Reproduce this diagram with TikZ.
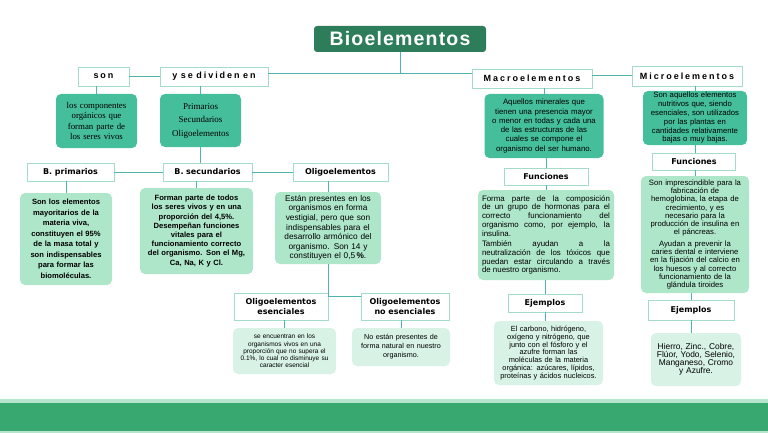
\documentclass[tikz,border=0pt]{standalone}
\usepackage{fontspec}
\setmainfont{Liberation Sans}
\newfontfamily\spacedfont[LetterSpace=22]{Liberation Sans}
\newfontfamily\titlefont[LetterSpace=6]{Liberation Sans}
\newfontfamily\heavyfont{DejaVu Sans}
\newfontfamily\serifcomp{Liberation Serif}
\newcommand\myfs[2]{\fontsize{#1}{#2}\selectfont}
\newcommand\wsp{\hspace{3.5pt}}
\definecolor{titlec}{HTML}{2D7D5A}
\definecolor{tealc}{HTML}{45BE9B}
\definecolor{litec}{HTML}{AEE6CA}
\definecolor{palec}{HTML}{D8F2E5}
\definecolor{lblc}{HTML}{A3DCCB}
\definecolor{connc}{HTML}{4FB3AE}
\definecolor{bandc}{HTML}{38A870}
\definecolor{bandl}{HTML}{B7E4CD}
\tikzset{
  sz/.style n args={3}{minimum width=#1, minimum height=#2, text width=#3},
  lbl/.style={draw=lblc, line width=0.8pt, fill=white, inner sep=1pt, align=center,
    font=\heavyfont\bfseries\myfs{8}{10}},
  spc/.style={lbl, font=\spacedfont\bfseries\myfs{9}{10}},
  cbox/.style={rounded corners=5pt, inner sep=1pt, align=center, text=black},
  tealbox/.style={cbox, fill=tealc},
  litebox/.style={cbox, fill=litec},
  palebox/.style={cbox, fill=palec},
  conn/.style={draw=connc, line width=1pt},
}
\begin{document}
\begin{tikzpicture}[x=1pt,y=-1pt]
\useasboundingbox (0,0) rectangle (768,433);
% bottom band
\fill[bandl] (0,399) rectangle (768,403);
\fill[bandc] (0,403) rectangle (768,431);
\fill[bandl] (0,431) rectangle (768,433);

% title
\node[fill=titlec, rounded corners=3pt, minimum width=172pt, minimum height=26pt, text=white,
  font=\titlefont\bfseries\myfs{19.5}{21}] (title) at (400,39) {Bioelementos};

% top labels
\node[spc, sz={51pt}{19pt}{49pt}] (son) at (103.5,76.5) {son};
\node[spc, sz={108pt}{19pt}{106pt}] (div) at (214,76.5) {y\wsp se\wsp dividen\wsp en};
\node[spc, sz={120pt}{19pt}{118pt}] (macro) at (532,78.5) {Macroelementos};
\node[spc, sz={110pt}{20pt}{108pt}] (micro) at (687,76) {Microelementos};

% left column
\node[tealbox, sz={81pt}{54pt}{79pt}, font=\serifcomp\myfs{8.8}{10.2}] (comp) at (96.5,121)
  {los componentes\\orgánicos que\\forman parte de\\los seres vivos};
\node[tealbox, sz={81pt}{53pt}{79pt}, font=\serifcomp\myfs{9}{13.5}] (prim) at (200.5,120.5)
  {Primarios\\Secundarios\\Oligoelementos};

\node[lbl, sz={87pt}{18pt}{85pt}] (bprim) at (70.5,172) {B. primarios};
\node[lbl, sz={89pt}{18pt}{87pt}] (bsec) at (207.5,172) {B. secundarios};
\node[lbl, sz={95pt}{18pt}{93pt}] (oligo) at (340.5,172) {Oligoelementos};

\node[litebox, sz={92pt}{92pt}{88pt}, font=\bfseries\myfs{7.6}{10.5}] (bprimC) at (66,239)
  {Son los elementos\\mayoritarios de la\\materia viva,\\constituyen el 95\%\\de la masa total y\\son indispensables\\para formar las\\biomoléculas.};
\node[litebox, sz={113pt}{86pt}{110pt}, font=\bfseries\myfs{7.6}{9.2}] (bsecC) at (196.5,231)
  {Forman parte de todos\\los seres vivos y en una\\proporción del 4,5\%.\\Desempeñan funciones\\vitales para el\\funcionamiento correcto\\del organismo. Son el Mg,\\Ca, Na, K y Cl.};
\node[litebox, sz={106pt}{72pt}{104pt}, font=\myfs{8.3}{9.6}] (oligoC) at (328,228)
  {Están presentes en los\\organismos en forma\\vestigial, pero que son\\indispensables para el\\desarrollo armónico del\\organismo. Son 14 y\\constituyen el 0,5\,\textbf{\%}.};

\node[lbl, sz={94pt}{27pt}{92pt}] (oes) at (281,306.5) {Oligoelementos\\esenciales};
\node[lbl, sz={88pt}{27pt}{86pt}] (ones) at (405,306.5) {Oligoelementos\\no esenciales};
\node[palebox, sz={103pt}{46pt}{101pt}, font=\myfs{6.5}{7.2}] (oesC) at (284.5,351)
  {se encuentran en los\\organismos vivos en una\\proporción que no supera el\\0.1\%, lo cual no disminuye su\\caracter esencial};
\node[palebox, sz={98pt}{38pt}{96pt}, font=\myfs{7.2}{9}] (onesC) at (401,347)
  {No están presentes de\\forma natural en nuestro\\organismo.};

% macro column
\node[tealbox, sz={119pt}{64pt}{117pt}, font=\myfs{7.8}{9.3}] (macroC) at (544,126)
  {Aquellos minerales que\\tienen una presencia mayor\\o menor en todas y cada una\\de las estructuras de las\\cuales se compone el\\organismo del ser humano.};
\node[lbl, sz={84pt}{17pt}{82pt}] (funM) at (546,176.5) {Funciones};
\node[litebox, sz={136pt}{90pt}{128pt}, align=justify, font=\myfs{7.9}{8.7}] (funMC) at (546,235)
  {\hyphenpenalty=10000 Forma parte de la composición\linebreak de un grupo de hormonas para el\linebreak correcto funcionamiento del\linebreak organismo como, por ejemplo, la\linebreak insulina.\par\vspace{2pt}
  También ayudan a la\linebreak neutralización de los tóxicos que\linebreak puedan estar circulando a través\linebreak de nuestro organismo.};
\node[lbl, sz={74pt}{18pt}{72pt}] (ejM) at (545,303) {Ejemplos};
\node[palebox, sz={109pt}{64pt}{107pt}, font=\myfs{7.4}{7.9}] (ejMC) at (548.5,353)
  {El carbono, hidrógeno,\\oxígeno y nitrógeno, que\\junto con el fósforo y el\\azufre forman las\\moléculas de la materia\\orgánica: azúcares, lípidos,\\proteínas y ácidos nucleicos.};

% micro column
\node[tealbox, sz={104pt}{54pt}{102pt}, font=\myfs{7.7}{8.8}] (microC) at (695,118)
  {Son aquellos elementos\\nutritivos que, siendo\\esenciales, son utilizados\\por las plantas en\\cantidades relativamente\\bajas o muy bajas.};
\node[lbl, sz={83pt}{17pt}{81pt}] (funm) at (694,161.5) {Funciones};
\node[litebox, sz={108pt}{117pt}{106pt}, font=\myfs{7.7}{8.3}] (funmC) at (695,234.5)
  {Son imprescindible para la\\fabricación de\\hemoglobina, la etapa de\\crecimiento, y es\\necesario para la\\producción de insulina en\\el páncreas.\\[3pt]
  Ayudan a prevenir la\\caries dental e interviene\\en la fijación del calcio en\\los huesos y al correcto\\funcionamiento de la\\glándula tiroides};
\node[lbl, sz={86pt}{20pt}{84pt}] (ejm) at (691,310) {Ejemplos};
\node[palebox, sz={90pt}{53pt}{88pt}, font=\myfs{8.4}{8}] (ejmC) at (696,359.5)
  {Hierro, Zinc., Cobre,\\Flúor, Yodo, Selenio,\\Manganeso, Cromo\\y Azufre.};

% connectors
\draw[conn] (title.south) -- ++(0,21) coordinate (tj);
\draw[conn] (tj) -- (tj -| div.east);
\draw[conn] (tj) -- (tj -| macro.west);
\draw[conn] (son.east) -- (div.west);
\draw[conn] (macro.east |- micro.west) -- (micro.west);
\draw[conn] (comp.north) -- (comp.north |- son.south);
\draw[conn] (prim.north) -- (prim.north |- div.south);
\draw[conn] (prim.south) -- (prim.south |- bsec.north);
\draw[conn] (bprim.east) -- (bsec.west);
\draw[conn] (bsec.east) -- (oligo.west);
\draw[conn] (bprimC.north) -- (bprimC.north |- bprim.south);
\draw[conn] (bsecC.north) -- (bsecC.north |- bsec.south);
\draw[conn] (oligoC.north) -- (oligoC.north |- oligo.south);
\draw[conn] (oligoC.south) -- ++(0,32) coordinate (oj);
\draw[conn] (oj) -- (oj -| ones.west);
\draw[conn] (oesC.north) -- (oesC.north |- oes.south);
\draw[conn] (onesC.north) -- (onesC.north |- ones.south);
\draw[conn] (macroC.north) -- (macroC.north |- macro.south);
\draw[conn] (funM.north) -- (funM.north |- macroC.south);
\draw[conn] (funMC.north) -- (funMC.north |- funM.south);
\draw[conn] (ejM.north) -- (ejM.north |- funMC.south);
\draw[conn] (ejMC.north -| ejM.south) -- (ejM.south);
\draw[conn] (microC.north) -- (microC.north |- micro.south);
\draw[conn] (funm.north -| microC.south) -- (microC.south);
\draw[conn] (funmC.north) -- (funmC.north |- funm.south);
\draw[conn] (funmC.south -| ejm.north) -- (ejm.north);
\draw[conn] (ejm.south) -- (ejm.south |- ejmC.north);
\end{tikzpicture}
\end{document}
